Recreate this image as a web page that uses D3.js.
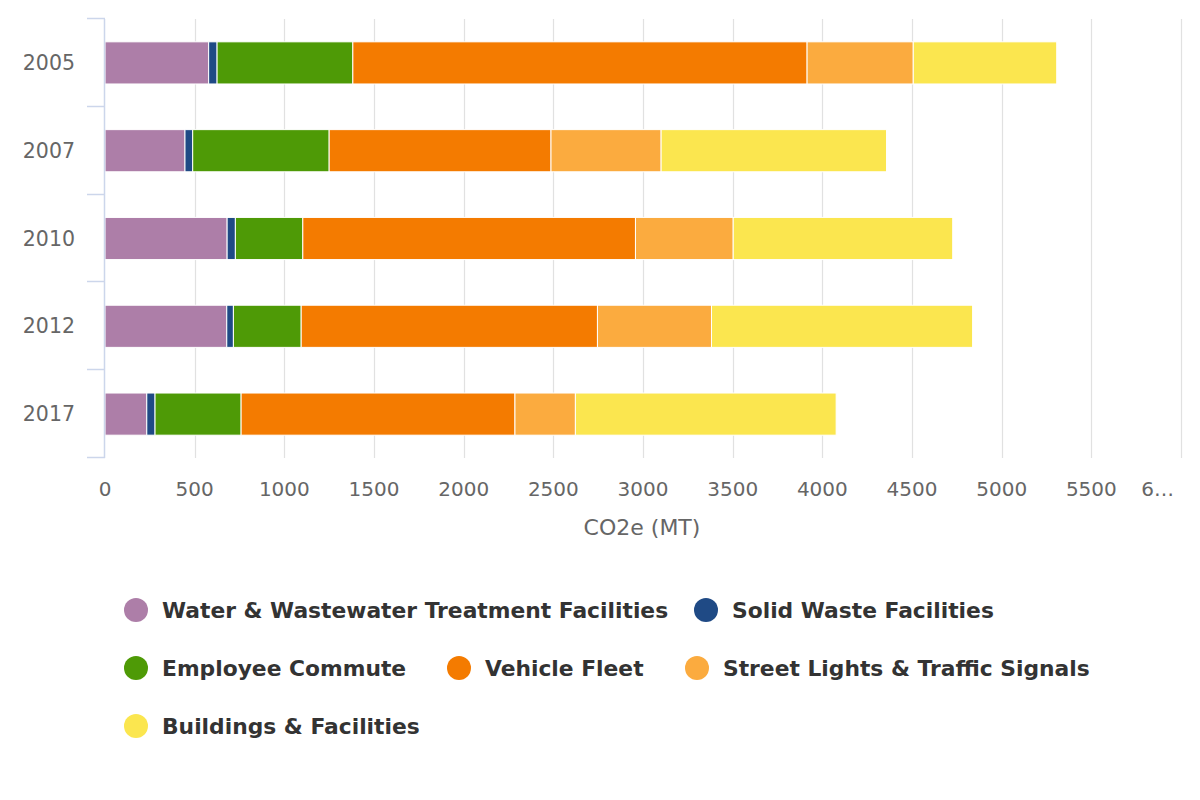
<!DOCTYPE html>
<html>
<head>
<meta charset="utf-8">
<script src="https://cdn.jsdelivr.net/npm/d3@7"></script>
<style>
  html, body { margin: 0; padding: 0; background: #fff; }
  svg { display: block; font-family: "DejaVu Sans", sans-serif; }
</style>
</head>
<body>
<svg id="chart" width="1200" height="800"></svg>
<script>
// ---- data ----
const years = ["2005", "2007", "2010", "2012", "2017"];
const seriesNames = [
  "Water & Wastewater Treatment Facilities",
  "Solid Waste Facilities",
  "Employee Commute",
  "Vehicle Fleet",
  "Street Lights & Traffic Signals",
  "Buildings & Facilities"
];
const waterWastewater = [578, 446, 681, 679, 233];
const solidWaste      = [47, 43, 46, 37, 46];
const employeeCommute = [757, 761, 376, 378, 480];
const vehicleFleet    = [2533, 1237, 1855, 1652, 1527];
const streetLights    = [592, 614, 545, 636, 337];
const buildings       = [800, 1257, 1224, 1456, 1454];
const seriesColors = ["#ad7ea8", "#1f4a85", "#4e9a06", "#f47b00", "#fbab3f", "#fbe64f"];
const xTickValues = [0, 500, 1000, 1500, 2000, 2500, 3000, 3500, 4000, 4500, 5000, 5500, 6000];
const xTickLabels = ["0", "500", "1000", "1500", "2000", "2500", "3000", "3500", "4000", "4500", "5000", "5500", "6…"];
const axisTitle = "CO2e (MT)";

const seriesValues = [waterWastewater, solidWaste, employeeCommute, vehicleFleet, streetLights, buildings];

// ---- layout ----
const svg = d3.select("#chart");
const plot = { left: 105, right: 1181, top: 19, bottom: 458 };

const x = d3.scaleLinear().domain([0, 6000]).range([plot.left, plot.right]);
const y = d3.scaleBand().domain(years).range([plot.top, plot.bottom]).paddingInner(0).paddingOuter(0);

// gridlines
svg.append("g").selectAll("line")
  .data(xTickValues.filter(v => v > 0))
  .join("line")
  .attr("x1", d => Math.round(x(d)) + 0.5)
  .attr("x2", d => Math.round(x(d)) + 0.5)
  .attr("y1", plot.top)
  .attr("y2", plot.bottom)
  .attr("stroke", "#e1e1e1")
  .attr("stroke-width", 1.2);

// stacked data
const table = years.map((yr, i) => {
  const row = { year: yr };
  seriesNames.forEach((s, j) => row[s] = seriesValues[j][i]);
  return row;
});
const stacked = d3.stack().keys(seriesNames)(table);

const barH = y.bandwidth() * 0.48;
const layers = svg.append("g").selectAll("g")
  .data(stacked)
  .join("g")
  .attr("fill", (d, i) => seriesColors[i]);

layers.selectAll("rect")
  .data(d => d)
  .join("rect")
  .attr("x", d => x(d[0]))
  .attr("width", d => Math.max(0, x(d[1]) - x(d[0])))
  .attr("y", d => y(d.data.year) + (y.bandwidth() - barH) / 2)
  .attr("height", barH)
  .attr("stroke", "#ffffff")
  .attr("stroke-width", 1);

// y axis (category)
const yAxisG = svg.append("g");
yAxisG.append("line")
  .attr("x1", plot.left - 0.5).attr("x2", plot.left - 0.5)
  .attr("y1", plot.top).attr("y2", plot.bottom)
  .attr("stroke", "#ccd6eb").attr("stroke-width", 1.5);
const yTickPos = years.map(yr => y(yr)).concat([plot.bottom]);
yAxisG.selectAll("line.tick")
  .data(yTickPos)
  .join("line")
  .attr("class", "tick")
  .attr("x1", plot.left - 18).attr("x2", plot.left)
  .attr("y1", d => Math.round(d) - 0.5).attr("y2", d => Math.round(d) - 0.5)
  .attr("stroke", "#ccd6eb").attr("stroke-width", 1.5);
yAxisG.selectAll("text")
  .data(years)
  .join("text")
  .attr("x", 75)
  .attr("y", d => y(d) + y.bandwidth() / 2)
  .attr("dy", "0.35em")
  .attr("text-anchor", "end")
  .attr("font-size", 20.5)
  .attr("fill", "#666666")
  .text(d => d);

// x axis labels
const xAxisG = svg.append("g");
xAxisG.selectAll("text")
  .data(xTickValues)
  .join("text")
  .attr("x", d => x(d))
  .attr("y", 496)
  .attr("text-anchor", (d, i) => i === xTickValues.length - 1 ? "end" : "middle")
  .attr("dx", (d, i) => i === xTickValues.length - 1 ? -7 : 0)
  .attr("font-size", 20)
  .attr("fill", "#666666")
  .text((d, i) => xTickLabels[i]);

svg.append("text")
  .attr("x", (plot.left + plot.right) / 2 - 1)
  .attr("y", 535)
  .attr("text-anchor", "middle")
  .attr("font-size", 22)
  .attr("fill", "#666666")
  .text(axisTitle);

// legend
const legendPos = [[124, 610], [694, 610], [124, 668], [447, 668], [685, 668], [124, 726]];
const legend = svg.append("g").selectAll("g")
  .data(seriesNames)
  .join("g")
  .attr("transform", (d, i) => `translate(${legendPos[i][0]},${legendPos[i][1]})`);
legend.append("circle")
  .attr("cx", 12).attr("cy", 0).attr("r", 12)
  .attr("fill", (d, i) => seriesColors[i]);
legend.append("text")
  .attr("x", 38).attr("y", 0).attr("dy", "0.35em")
  .attr("font-size", 21.8)
  .attr("font-weight", "bold")
  .attr("fill", "#333333")
  .text(d => d);
</script>
</body>
</html>
